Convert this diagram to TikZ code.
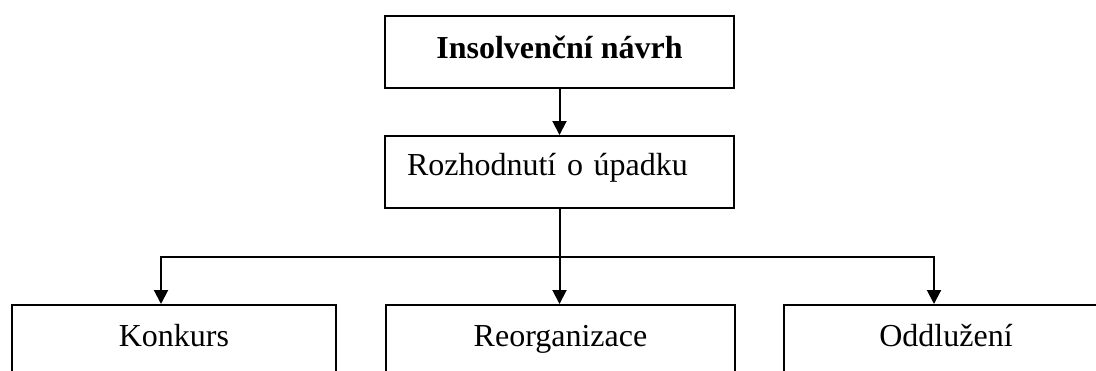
\documentclass[tikz,border=0pt]{standalone}
\usepackage{fontspec}
\setmainfont{Liberation Serif}
\usetikzlibrary{arrows.meta}
\begin{document}
\begin{tikzpicture}[x=1pt,y=-1pt,
  box/.style={draw, line width=2pt, inner sep=0pt, font=\fontsize{32}{38}\selectfont},
  step box/.style={box, text height=42pt, text depth=30pt},
  outcome/.style={box, anchor=north, text height=41pt, text depth=70pt},
  link/.style={line width=2pt},
  arr/.style={link, -{Triangle[width=14pt,length=14pt]}}]
\clip (0,0) rectangle (1096,370);
\fill[white] (0,0) rectangle (1096,370);

% upper two steps
\node[step box, minimum width=349pt,
      font=\fontsize{32}{38}\selectfont\bfseries] (navrh) at (559.5,52) {Insolvenční návrh};
\node[box, text height=39.5pt, text depth=32.5pt, text width=305pt, inner xsep=22pt, align=left]
      (rozhodnuti) at (559.5,172) {Rozhodnutí o úpadku};

% the three outcomes (boxes run on below the lower edge)
\node[outcome, minimum width=324pt] (konkurs) at (174,304) {Konkurs};
\node[outcome, minimum width=349pt] (reorg) at (560.5,304) {Reorganizace};
\node[outcome, minimum width=324pt] (oddluzeni) at (946,304) {Oddlužení};

% branching connectors
\coordinate (split) at (559.5,256.7);
\coordinate (kx) at (161,0);
\coordinate (ox) at (934,0);

\draw[arr] (navrh.south) -- (rozhodnuti.north);
\draw[arr] (rozhodnuti.south) -- (rozhodnuti.south |- reorg.north);
\draw[arr] (split) -| (kx |- konkurs.north);
\draw[arr] (split) -| (ox |- oddluzeni.north);
\end{tikzpicture}
\end{document}
